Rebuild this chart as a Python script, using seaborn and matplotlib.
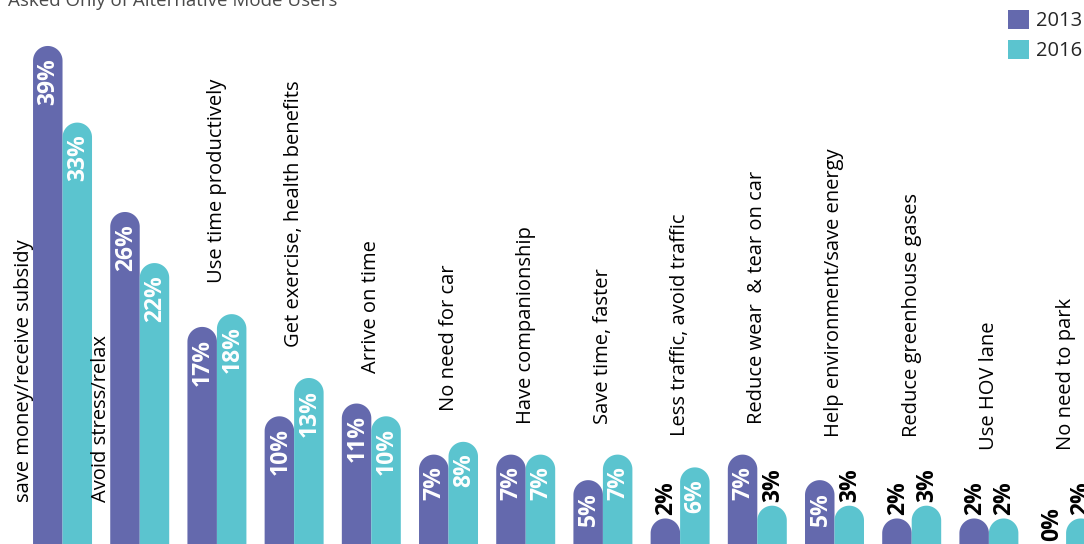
import numpy as np
import pandas as pd
import matplotlib
matplotlib.use("Agg")
import matplotlib.pyplot as plt
from matplotlib.path import Path
from matplotlib.patches import PathPatch
import seaborn as sns

# Reasons for choosing an alternative commute mode, share of respondents
reasons = [
    "save money/receive subsidy",
    "Avoid stress/relax",
    "Use time productively",
    "Get exercise, health benefits",
    "Arrive on time",
    "No need for car",
    "Have companionship",
    "Save time, faster",
    "Less traffic, avoid traffic",
    "Reduce wear  & tear on car",
    "Help environment/save energy",
    "Reduce greenhouse gases",
    "Use HOV lane",
    "No need to park",
]
pct_2013 = [39, 26, 17, 10, 11, 7, 7, 5, 2, 7, 5, 2, 2, 0]
pct_2016 = [33, 22, 18, 13, 10, 8, 7, 7, 6, 3, 3, 3, 2, 2]
years = ["2013", "2016"]
year_colors = ["#6469ad", "#5bc4cf"]
subtitle = "Asked Only of Alternative Mode Users"

sns.set_theme(style="white")
plt.rcParams["font.family"] = ["Open Sans", "DejaVu Sans"]

n = len(reasons)
df = pd.DataFrame({
    "reason": reasons * 2,
    "year": [years[0]] * n + [years[1]] * n,
    "pct": pct_2013 + pct_2016,
})

fig = plt.figure(figsize=(10.84, 5.44), dpi=100)
ax = fig.add_axes([0, 0, 1, 1])
sns.barplot(
    data=df, x="reason", y="pct", hue="year",
    order=reasons, hue_order=years,
    palette=dict(zip(years, year_colors)),
    width=0.764, gap=0, saturation=1, errorbar=None, linewidth=0, ax=ax,
)
ax.set_xlim(-0.81, 13.232)
ax.set_ylim(0, 42.6)
ax.axis("off")

# replace the square bars with round-topped ones
fig.canvas.draw()
p0 = ax.transData.transform((0, 0))
p1 = ax.transData.transform((1, 1))
sx, sy = p1[0] - p0[0], p1[1] - p0[1]
theta = np.linspace(0, np.pi, 60)
for bar in list(ax.patches):
    x0, w, h = bar.get_x(), bar.get_width(), bar.get_height()
    color = bar.get_facecolor()
    bar.set_visible(False)
    if h <= 0:
        continue
    rx = w / 2
    ry = min(rx * sx / sy, h)
    yc = h - ry
    arc = np.column_stack([x0 + rx + rx * np.cos(theta), yc + ry * np.sin(theta)])
    verts = np.vstack([[x0 + w, 0], [x0 + w, yc], arc, [x0, 0], [x0, 0]])
    codes = [Path.MOVETO] + [Path.LINETO] * (len(verts) - 2) + [Path.CLOSEPOLY]
    ax.add_patch(PathPatch(Path(verts, codes), facecolor=color, edgecolor="none"))

# value labels: inside the bar for larger values, above it otherwise
tops = [[] for _ in range(n)]
for cont, vals in zip(ax.containers, [pct_2013, pct_2016]):
    for i, (bar, v) in enumerate(zip(cont, vals)):
        xc = bar.get_x() + bar.get_width() / 2
        if v >= 5:
            t = ax.annotate(f"{v}%", (xc, v), xytext=(0.6, -8.5), textcoords="offset points",
                            rotation=90, rotation_mode="anchor", ha="right", va="center",
                            color="white", fontsize=16.5, fontweight="bold")
        else:
            t = ax.annotate(f"{v}%", (xc, v), xytext=(0.6, 2.5), textcoords="offset points",
                            rotation=90, rotation_mode="anchor", ha="left", va="center",
                            color="black", fontsize=16.5, fontweight="bold")
        tops[i].append((t, v))

fig.canvas.draw()
renderer = fig.canvas.get_renderer()
for i, reason in enumerate(reasons):
    if i < 2:
        ax.annotate(reason, (i - 0.5, 0), xytext=(0, 30), textcoords="offset points",
                    rotation=90, rotation_mode="anchor", ha="left", va="center",
                    color="black", fontsize=14.5)
        continue
    top_px = 0
    for t, v in tops[i]:
        top_px = max(top_px, ax.transData.transform((0, v))[1])
        if t.get_color() == "black":
            top_px = max(top_px, t.get_window_extent(renderer).y1)
    y = ax.transData.inverted().transform((0, top_px + 31))[1]
    ax.text(i, y, reason, rotation=90, rotation_mode="anchor", ha="left", va="center",
            color="black", fontsize=14.5)

fig.text(8 / 1084, 1 - 6 / 544, subtitle, ha="left", va="baseline",
         fontsize=13.5, color="#4a4a4a")

sns.move_legend(
    ax, "upper left", bbox_to_anchor=(1008 / 1084, 1 - 10 / 544),
    bbox_transform=fig.transFigure, title=None, frameon=False, fontsize=14.5,
    handlelength=1.05, handleheight=1.05, handletextpad=0.35, labelspacing=0.45,
    borderpad=0, borderaxespad=0,
)

fig.savefig("out.png", dpi=100)
